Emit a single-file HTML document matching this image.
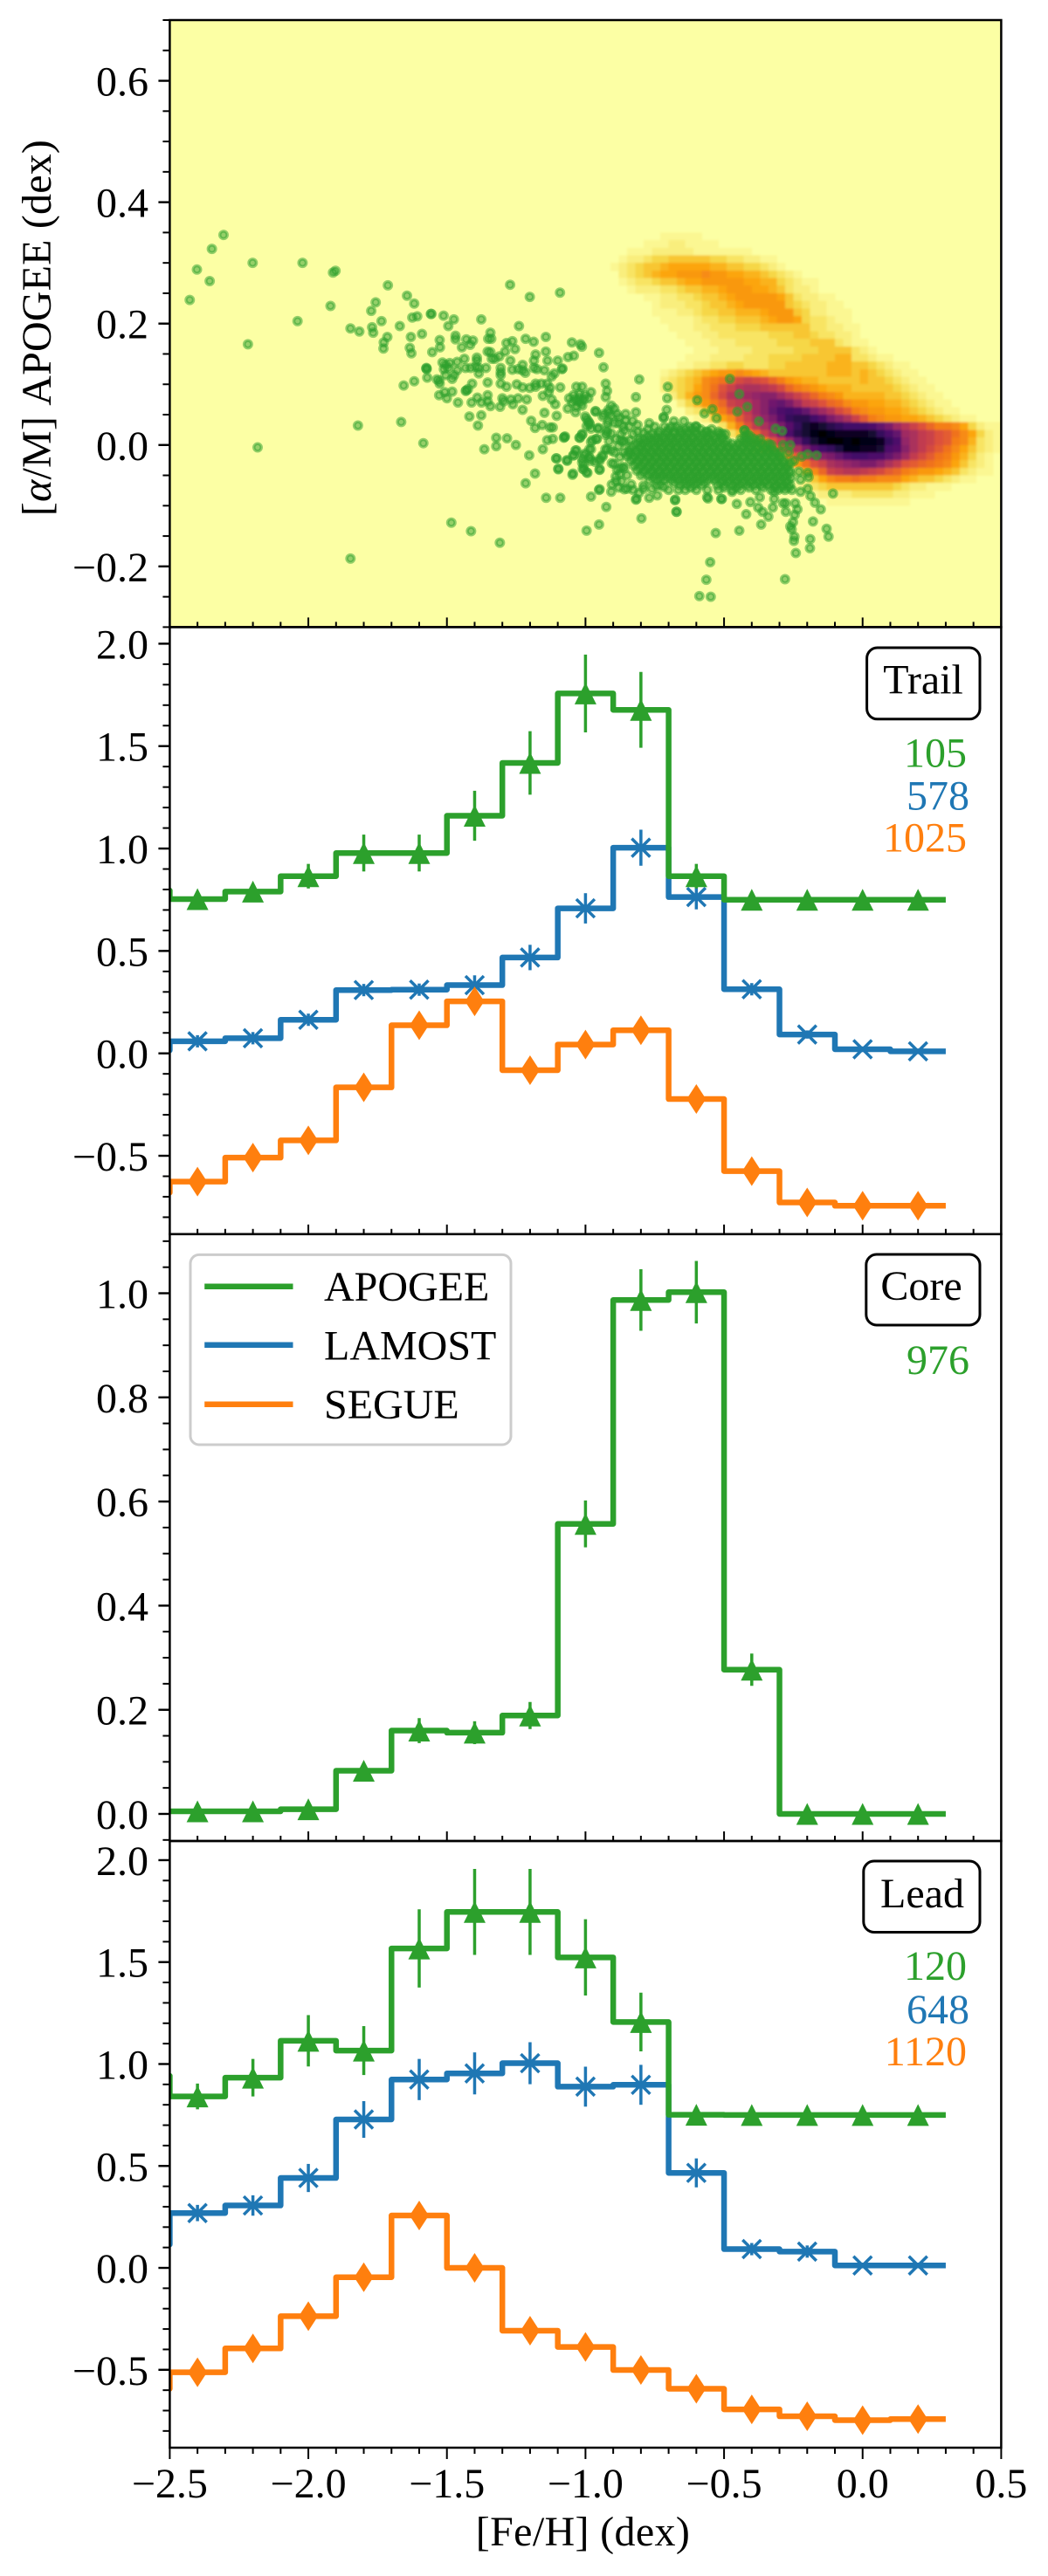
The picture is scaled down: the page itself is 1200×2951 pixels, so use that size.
<!DOCTYPE html>
<html lang="en">
<head>
<meta charset="utf-8">
<title>Metallicity distributions of stream stars</title>
<style>
html,body{margin:0;padding:0;background:#fff;}
svg{display:block;}
text{font-family:"Liberation Serif","DejaVu Serif",serif;font-size:48px;fill:#000;}
</style>
</head>
<body>
<svg id="figure" xmlns="http://www.w3.org/2000/svg" width="1200" height="2951" viewBox="0 0 1200 2951">
  <defs>
    <filter id="heat-soften" x="-5%" y="-5%" width="110%" height="110%"><feGaussianBlur stdDeviation="1.2"/></filter>
  </defs>
  <rect x="0" y="0" width="1200" height="2951" fill="#ffffff"/>
  <g id="panel-scatter"></g>
  <g id="panel-trail"></g>
  <g id="panel-core"></g>
  <g id="panel-lead"></g>

  <text transform="translate(58 375.6) rotate(-90)" text-anchor="middle" textLength="431" lengthAdjust="spacing">[<tspan font-style="italic">α</tspan>/M] APOGEE (dex)</text>
  <text x="667.3" y="2916" text-anchor="middle" textLength="245" lengthAdjust="spacing">[Fe/H] (dex)</text>

  <g>
    <rect x="992.6" y="742" width="129.4" height="81.8" rx="12" fill="#fff" stroke="#000" stroke-width="3"/>
    <text x="1057" y="794.4" text-anchor="middle">Trail</text>
    <text x="1107" y="878.4" text-anchor="end" style="fill:#2ca02c">105</text>
    <text x="1110" y="927.5" text-anchor="end" style="fill:#1f77b4">578</text>
    <text x="1107" y="975.7" text-anchor="end" style="fill:#ff7f0e">1025</text>
  </g>

  <g>
    <rect x="991.8" y="1437" width="130.2" height="81" rx="12" fill="#fff" stroke="#000" stroke-width="3"/>
    <text x="1055" y="1489" text-anchor="middle">Core</text>
    <text x="1110" y="1574" text-anchor="end" style="fill:#2ca02c">976</text>
  </g>

  <g>
    <rect x="988.8" y="2132" width="133.2" height="81.5" rx="12" fill="#fff" stroke="#000" stroke-width="3"/>
    <text x="1056" y="2185" text-anchor="middle">Lead</text>
    <text x="1107" y="2268" text-anchor="end" style="fill:#2ca02c">120</text>
    <text x="1110" y="2318" text-anchor="end" style="fill:#1f77b4">648</text>
    <text x="1107" y="2366" text-anchor="end" style="fill:#ff7f0e">1120</text>
  </g>

  <g>
    <rect x="218" y="1437.4" width="367" height="217.6" rx="10" fill="#ffffff" fill-opacity="0.8" stroke="#cccccc" stroke-width="3"/>
    <line x1="234.2" x2="335.5" y1="1473.7" y2="1473.7" stroke="#2ca02c" stroke-width="6.5"/>
    <text x="371" y="1490">APOGEE</text>
    <line x1="234.2" x2="335.5" y1="1540.8" y2="1540.8" stroke="#1f77b4" stroke-width="6.5"/>
    <text x="371" y="1557.7">LAMOST</text>
    <line x1="234.2" x2="335.5" y1="1608.7" y2="1608.7" stroke="#ff7f0e" stroke-width="6.5"/>
    <text x="371" y="1625">SEGUE</text>
  </g>
</svg>

<script>
/* ---------- histogram data: first entry is the off-axis bin at -2.6 ---------- */
const binCenters = [-2.6,-2.4,-2.2,-2.0,-1.8,-1.6,-1.4,-1.2,-1.0,-0.8,-0.6,-0.4,-0.2,0.0,0.2];

const trailApogee    = [0.795,0.753,0.79,0.865,0.978,0.978,1.16,1.418,1.757,1.677,0.865,0.75,0.75,0.75,0.75];
const trailApogeeErr = [0,0.02,0.03,0.06,0.09,0.09,0.122,0.155,0.19,0.185,0.06,0,0,0,0];
const trailLamost    = [0.015,0.059,0.074,0.164,0.309,0.311,0.333,0.468,0.708,1.004,0.763,0.313,0.092,0.02,0.01];
const trailLamostErr = [0,0.03,0.03,0.03,0.03,0.03,0.048,0.062,0.074,0.088,0.06,0.03,0.02,0.01,0.01];
const trailSegue     = [-0.68,-0.626,-0.509,-0.425,-0.166,0.137,0.254,-0.082,0.043,0.113,-0.223,-0.575,-0.728,-0.744,-0.744];
const trailSegueErr  = [0,0.03,0.03,0.03,0.03,0.03,0.03,0.02,0.02,0.02,0.02,0.02,0.01,0.01,0.01];

const coreApogee     = [0.005,0.005,0.005,0.009,0.083,0.16,0.156,0.189,0.557,0.987,1.002,0.277,0,0,0];
const coreApogeeErr  = [0,0.003,0.003,0.004,0.01,0.024,0.022,0.026,0.045,0.059,0.06,0.031,0,0,0];

const leadApogee     = [0.942,0.841,0.933,1.114,1.066,1.567,1.746,1.746,1.523,1.206,0.751,0.75,0.75,0.75,0.75];
const leadApogeeErr  = [0,0.063,0.092,0.126,0.12,0.192,0.211,0.211,0.187,0.144,0,0,0,0,0];
const leadLamost     = [0.115,0.269,0.306,0.441,0.728,0.924,0.954,1.004,0.889,0.898,0.466,0.092,0.08,0.012,0.012];
const leadLamostErr  = [0,0.04,0.05,0.069,0.09,0.101,0.103,0.103,0.098,0.098,0.071,0.03,0.03,0.01,0.01];
const leadSegue      = [-0.593,-0.512,-0.395,-0.237,-0.046,0.257,0,-0.308,-0.388,-0.501,-0.593,-0.694,-0.728,-0.747,-0.742];
const leadSegueErr   = [0,0.03,0.03,0.03,0.03,0.03,0.03,0.02,0.02,0.02,0.02,0.02,0.02,0.01,0.01];

/* ---------- tick values and printed labels ---------- */
const xTickValues = [-2.5,-2.0,-1.5,-1.0,-0.5,0.0,0.5];
const xTickLabels = ["−2.5","−2.0","−1.5","−1.0","−0.5","0.0","0.5"];
const alphaTickValues = [-0.2,0,0.2,0.4,0.6];
const alphaTickLabels = ["−0.2","0.0","0.2","0.4","0.6"];
const trailTickValues = [-0.5,0,0.5,1,1.5,2];
const trailTickLabels = ["−0.5","0.0","0.5","1.0","1.5","2.0"];
const coreTickValues = [0,0.2,0.4,0.6,0.8,1.0];
const coreTickLabels = ["0.0","0.2","0.4","0.6","0.8","1.0"];
const leadTickValues = [-0.5,0,0.5,1,1.5,2];
const leadTickLabels = ["−0.5","0.0","0.5","1.0","1.5","2.0"];

/* ---------- 2-D density: one character per bin, base-36 level (0 = empty, z = peak) ---------- */
const heatFirstColumn = 52;   /* bin 0 starts at [Fe/H] = -2.5, width 0.03 dex */
const heatFirstRow = 28;      /* row 0 starts at [a/M] = 0.7, height 0.0125 dex */
const heatRows = [
"000000011111",
"00000111221111",
"000111222221111111",
"001223445555544332211",
"0123455677777665544321",
"002345677888988776654321",
"00123345567788888776643211",
"00012223345566788877653221",
"0000011223345567888887532211",
"00000012223345567888885432211",
"000000111223445566678885422111",
"000000011112334455567887433211",
"0000000011122333444555555332211",
"0000000001112233333344455433221",
"00000000001112223333344445553211",
"000000000001112222333334445555321",
"00000000001112222333444455556633211",
"0000000001122334433344555556665543211",
"00000001234567889876555555566656543211",
"0000000234569abdfgfeca87665555565543211",
"0000000234579begijjihfca9876665555543211",
"0000000024689cfijklmmkigeca98666665543211",
"0000000002468acghikmopnkhgecb9887766543211",
"00000000002358adfhkmprsrpmkifda988776543211",
"0000000000012579dgjlnqtuusqnljgda988776543211",
"0000000000000136aehjlnqtwxwutsssrpnkigecaa974211",
"000000000000001358cgjnruwyzyxxxxwtrpkjhgedb97421",
"0000000000000000247aehlptwyzzyzyyxtrljhgeda96321",
"00000000000000000136adgjnqstvyyxxwrqmjhfdb975321",
"0000000000000000000015adgkmnprssrrpnkhfdba86421",
"000000000000000000000158begjklmnnljhedcba975321",
"00000000000000000000000269cghiihgfdca9887653211",
"0000000000000000000000002579aabaa999765543211",
"000000000000000000000001234555555554322111",
"0000000000000000000000001122223333322111",
"0000000000000000000000000001111111111"
];

/* ---------- APOGEE stars as [ [Fe/H], [a/M] ] ---------- */
const apogeeStars = [
[-2.306,.346],[-2.348,.323],[-2.402,.289],[-2.356,.270],[-2.428,.239],[-2.201,.300],[-2.021,.300],[-1.911,.284],[-1.902,.287],[-1.713,.263],
[-1.920,.229],[-2.039,.204],[-2.218,.166],[-2.183,-.004],[-1.848,-.187],[-1.821,.032],[-1.665,.038],[-1.585,.003],[-1.484,-.128],[-1.413,-.142],
[-1.309,-.161],[-1.272,.264],[-1.201,.244],[-1.092,.251],[-1.757,.235],[-1.773,.221],[-1.644,.246],[-1.618,.233],[-1.848,.192],[-1.816,.187],
[-1.770,.194],[-1.766,.185],[-1.736,.204],[-1.715,.178],[-1.728,.169],[-1.729,.159],[-1.670,.196],[-1.630,.178],[-1.625,.210],[-1.607,.212],
[-1.590,.183],[-1.634,.160],[-1.628,.151],[-1.558,.216],[-1.556,.216],[-1.512,.213],[-1.475,.207],[-1.495,.196],[-1.376,.207],[-1.240,.196],
[-1.526,.173],[-1.525,.161],[-1.553,.153],[-1.469,.180],[-1.469,.174],[-1.446,.161],[-1.430,.174],[-1.406,.172],[-1.416,.165],[-1.343,.185],
[-1.351,.175],[-1.340,.175],[-1.285,.168],[-1.264,.171],[-1.254,.158],[-1.216,.175],[-1.187,.170],[-1.143,.178],[-1.049,.169],[-1.018,.166],
[-1.013,.162],[-.951,.152],[-.935,.128],[-1.042,.147],[-1.063,.145],[-1.353,.154],[-1.343,.153],[-1.338,.142],[-1.327,.142],[-1.290,.154],
[-1.311,.146],[-1.392,.144],[-1.392,.139],[-1.437,.142],[-1.463,.137],[-1.516,.136],[-1.505,.132],[-1.490,.135],[-1.495,.127],[-1.511,.125],
[-1.574,.126],[-1.574,.127],[-1.573,.125],[-1.571,.111],[-1.433,.127],[-1.414,.127],[-1.396,.129],[-1.385,.127],[-1.359,.127],[-1.385,.118],
[-1.463,.123],[-1.474,.115],[-1.481,.109],[-1.505,.115],[-1.271,.139],[-1.306,.127],[-1.306,.115],[-1.306,.120],[-1.264,.124],[-1.243,.125],
[-1.227,.123],[-1.217,.119],[-1.227,.132],[-1.186,.139],[-1.180,.149],[-1.186,.127],[-1.143,.154],[-1.137,.139],[-1.175,.125],[-1.148,.123],
[-1.100,.139],[-1.085,.125],[-1.083,.126],[-1.112,.118],[-1.122,.113],[-1.528,.106],[-1.536,.108],[-1.526,.101],[-1.618,.105],[-1.656,.098],
[-1.528,.082],[-1.508,.087],[-1.500,.077],[-1.481,.088],[-1.460,.070],[-1.432,.089],[-1.430,.090],[-1.424,.092],[-1.409,.101],[-1.353,.103],
[-1.306,.101],[-1.285,.096],[-1.248,.100],[-1.227,.095],[-1.201,.094],[-1.180,.096],[-1.159,.101],[-1.138,.101],[-1.180,.101],[-1.091,.095],
[-1.128,.094],[-1.133,.087],[-1.122,.075],[-1.154,.081],[-1.109,.067],[-1.390,.078],[-1.375,.070],[-1.353,.082],[-1.353,.072],[-1.343,.064],
[-1.308,.063],[-1.411,.070],[-1.300,.077],[-1.295,.072],[-1.269,.075],[-1.262,.067],[-1.243,.077],[-1.212,.075],[-1.227,.058],[-1.419,.047],
[-1.376,.049],[-1.388,.032],[-1.148,.053],[-1.104,.048],[-1.196,.040],[-1.182,.028],[-1.156,.033],[-1.128,.029],[-1.118,.029],[-1.322,.012],
[-1.322,-.002],[-1.283,.011],[-1.251,.000],[-1.365,-.007],[-1.203,-.017],[-1.154,-.007],[-1.138,.008],[-1.118,.010],[-1.076,.013],[-1.074,.014],
[-1.078,.012],[-1.104,-.022],[-1.066,-.026],[-1.098,-.039],[-1.045,-.047],[-1.182,-.047],[-1.216,-.063],[-1.142,-.087],[-1.091,-.087],[-.980,-.085],
[-.951,-.074],[-.949,-.073],[-.925,-.102],[-.951,-.131],[-.996,-.141],[-1.033,.096],[-1.012,.096],[-.980,.087],[-1.059,.077],[-1.043,.082],
[-1.022,.084],[-1.001,.082],[-.990,.077],[-1.048,.070],[-1.027,.072],[-1.006,.075],[-1.033,.063],[-1.012,.065],[-1.064,.060],[-1.036,.054],
[-1.017,.070],[-1.038,.075],[-1.022,.077],[-.964,.056],[-.927,.101],[-.922,.089],[-.927,.079],[-1.001,.047],[-.990,.039],[-.985,.034],
[-.980,.027],[-.954,.027],[-.938,.047],[-1.012,.018],[-1.022,.012],[-.975,.008],[-.959,.010],[-1.036,-.009],[-1.043,-.017],[-1.001,-.014],
[-1.012,-.023],[-.985,-.021],[-.964,-.028],[-.949,-.023],[-.938,-.019],[-.922,-.007],[-.980,-.007],[-1.006,-.033],[-.996,-.045],[-.949,-.040],
[-1.006,-.040],[-.922,.034],[-.922,.020],[-.917,.053],[-.806,.108],[-.703,.096],[-.705,.077],[-.818,.079],[-.707,.058],[-.718,.045],
[-.818,.054],[-.597,.074],[-.571,.052],[-.542,.059],[-.527,.044],[-.479,.109],[-.445,.084],[-.416,.063],[-.452,.055],[-.374,.039],
[-.314,.027],[-.426,.024],[-.963,.055],[-.907,.065],[-.896,.060],[-.917,.058],[-.933,.051],[-.907,.048],[-.886,.051],[-.917,.039],
[-.896,.036],[-.923,.024],[-.907,.019],[-.928,.017],[-.855,.051],[-.855,.041],[-.865,.031],[-.881,.036],[-.860,.024],[-.812,.033],
[-.812,.022],[-.807,.010],[-.996,.043],[-.986,.036],[-.996,.031],[-.954,.028],[-1.012,.017],[-1.020,.012],[-.961,.010],[-.980,.005],
[-.986,-.007],[-1.033,-.009],[-1.044,-.017],[-1.067,-.025],[-1.007,-.017],[-.986,-.021],[-1.012,-.029],[-.981,-.026],[-1.010,-.039],[-.993,-.046],
[-.949,-.041],[-1.047,-.049],[-1.098,-.040],[-1.106,-.022],[-.798,-.121],[-.672,-.110],[-.677,-.091],[-.530,-.145],[-.445,-.141],[-.366,-.131],
[-.420,-.114],[-.454,-.097],[-.558,-.088],[-.510,-.089],[-.340,-.118],[-.361,-.110],[-.377,-.103],[-.324,-.103],[-.818,-.090],[-.770,-.087],
[-.741,-.083],[-.907,-.077],[-.860,-.073],[-.828,-.074],[-.807,-.079],[-.891,-.052],[-.876,-.048],[-.886,-.041],[-.897,-.031],[-.865,-.036],
[-.860,-.038],[-.928,-.007],[-.939,-.017],[-.949,-.026],[-.907,-.009],[-.881,-.002],[-.865,.005],[-.665,-.074],[-.718,-.069],[-.744,-.067],
[-.791,-.067],[-.290,.023],[-.329,.000],[-.287,.000],[-.261,.000],[-.298,-.012],[-.267,-.012],[-.248,-.026],[-.220,-.019],[-.198,-.015],
[-.166,-.017],[-.230,-.044],[-.198,-.046],[-.195,-.053],[-.224,-.057],[-.198,-.072],[-.224,-.077],[-.188,-.084],[-.172,-.095],[-.151,-.106],
[-.107,-.080],[-.243,-.096],[-.235,-.106],[-.277,-.096],[-.245,-.115],[-.261,-.134],[-.251,-.127],[-.256,-.139],[-.246,-.151],[-.248,-.158],
[-.241,-.178],[-.179,-.126],[-.130,-.138],[-.123,-.151],[-.189,-.155],[-.190,-.170],[-.277,-.110],[-.287,-.096],[-.319,-.089],[-.405,-.094],
[-.371,-.086],[-.319,-.077],[-.471,-.077],[-.508,-.089],[-.561,-.086],[-.676,-.090],[-.671,-.110],[-.816,-.089],[-.550,-.193],[-.564,-.222],
[-.589,-.249],[-.548,-.250],[-.280,-.221],[-.718,.046],[-.681,.039],[-.645,.039],[-.602,.031],[-.560,.022],[-.508,.019],[-.427,.024],
[-.890,.010],[-.872,.018],[-.858,.006],[-.895,-.012],[-.876,-.020],[-.860,-.012],[-.890,-.060],[-.870,-.060],[-.850,-.050],[-.835,-.065],
[-.880,-.070],[-.905,-.065],[-.840,.008],[-.828,.018],[-.790,.020],[-.775,.026],[-.842,.030],[-.830,.040],[-.770,.036],[-.750,.030],
[-.878,.045],[-.872,.008],[-.915,.006],[-.905,-.030],[-.875,-.038],[-.850,-.072],[-.790,-.072],[-.760,-.072],[-.700,-.074],[-.560,-.074]
];

/* dense clump of stars, listed row by row: [ [a/M], [Fe/H], [Fe/H], ... ] */
const apogeeClumpRows = [
[.030,-.715,-.69,-.672,-.625,-.60],
[.026,-.70,-.66,-.64,-.615,-.585,-.545],
[.022,-.735,-.705,-.68,-.655,-.628,-.604,-.565,-.52],
[.018,-.76,-.735,-.708,-.682,-.655,-.63,-.60,-.575,-.55,-.52,-.495,-.415],
[.014,-.775,-.748,-.722,-.695,-.668,-.642,-.615,-.59,-.562,-.535,-.508,-.425,-.405],
[.010,-.79,-.765,-.74,-.714,-.688,-.662,-.635,-.61,-.582,-.556,-.53,-.504,-.44,-.418,-.392,-.37],
[.006,-.805,-.778,-.752,-.728,-.70,-.675,-.648,-.622,-.596,-.57,-.545,-.518,-.49,-.43,-.405,-.38],
[.002,-.815,-.79,-.762,-.735,-.71,-.684,-.656,-.63,-.605,-.578,-.552,-.525,-.498,-.47,-.445,-.418,-.392,-.364,-.34],
[-.002,-.83,-.80,-.775,-.748,-.722,-.695,-.67,-.644,-.618,-.59,-.565,-.538,-.51,-.485,-.458,-.432,-.405,-.378,-.35],
[-.006,-.838,-.805,-.78,-.752,-.726,-.70,-.674,-.648,-.62,-.594,-.568,-.54,-.515,-.488,-.462,-.436,-.41,-.382,-.356,-.33],
[-.010,-.845,-.818,-.792,-.765,-.74,-.712,-.686,-.66,-.634,-.608,-.58,-.554,-.528,-.5,-.474,-.448,-.42,-.395,-.368,-.342,-.32],
[-.014,-.84,-.812,-.785,-.758,-.732,-.706,-.68,-.654,-.628,-.6,-.575,-.55,-.522,-.496,-.47,-.444,-.416,-.39,-.364,-.338,-.312],
[-.018,-.85,-.825,-.798,-.772,-.745,-.72,-.694,-.668,-.64,-.615,-.588,-.562,-.535,-.51,-.482,-.456,-.43,-.404,-.378,-.35,-.325,-.30],
[-.022,-.83,-.8,-.772,-.745,-.718,-.692,-.665,-.64,-.612,-.587,-.56,-.535,-.508,-.482,-.455,-.43,-.402,-.376,-.35,-.322,-.296],
[-.026,-.838,-.81,-.785,-.758,-.73,-.705,-.678,-.652,-.625,-.6,-.574,-.548,-.52,-.495,-.468,-.442,-.415,-.39,-.362,-.336,-.31,-.285],
[-.030,-.815,-.788,-.76,-.732,-.706,-.68,-.654,-.628,-.6,-.574,-.548,-.522,-.495,-.468,-.443,-.416,-.39,-.363,-.337,-.31,-.285,-.262],
[-.034,-.825,-.798,-.77,-.745,-.718,-.692,-.665,-.64,-.612,-.586,-.56,-.534,-.508,-.482,-.455,-.43,-.402,-.376,-.35,-.324,-.298,-.272],
[-.038,-.805,-.776,-.75,-.722,-.696,-.67,-.644,-.618,-.592,-.565,-.538,-.512,-.486,-.46,-.433,-.407,-.38,-.355,-.328,-.302,-.276],
[-.042,-.815,-.788,-.762,-.735,-.71,-.682,-.656,-.63,-.604,-.578,-.55,-.525,-.498,-.472,-.446,-.42,-.394,-.368,-.34,-.315,-.288,-.264],
[-.046,-.79,-.76,-.733,-.707,-.68,-.655,-.628,-.602,-.576,-.55,-.524,-.497,-.47,-.444,-.418,-.39,-.365,-.34,-.312,-.287,-.262],
[-.050,-.80,-.772,-.745,-.72,-.694,-.668,-.642,-.615,-.59,-.562,-.536,-.51,-.484,-.458,-.43,-.405,-.378,-.352,-.326,-.30,-.275],
[-.054,-.755,-.73,-.704,-.678,-.65,-.625,-.598,-.572,-.545,-.52,-.493,-.467,-.44,-.415,-.388,-.362,-.336,-.31,-.284,-.258],
[-.058,-.77,-.742,-.716,-.69,-.664,-.638,-.61,-.585,-.558,-.532,-.506,-.48,-.454,-.428,-.40,-.375,-.35,-.322,-.296,-.27],
[-.062,-.68,-.648,-.622,-.596,-.57,-.512,-.485,-.458,-.432,-.405,-.38,-.354,-.328,-.3,-.275],
[-.066,-.73,-.66,-.635,-.608,-.58,-.525,-.498,-.47,-.445,-.418,-.392,-.366,-.34,-.314,-.288,-.262],
[-.070,-.62,-.5,-.455,-.41,-.36,-.318,-.292,-.268],
[-.074,-.64,-.60,-.52,-.47,-.44,-.385,-.33,-.305,-.28,-.255]
];

/* ---------- axis geometry ---------- */
const NS = "http://www.w3.org/2000/svg";
const GREEN = "#2ca02c", BLUE = "#1f77b4", ORANGE = "#ff7f0e";
const plotLeft = 194.4, plotRight = 1146.4;
const xMin = -2.5, xMax = 0.5;
function xAxis(v){ return plotLeft + (v - xMin) / (xMax - xMin) * (plotRight - plotLeft); }
function yAxisFor(p){ return function(v){ return p.top + (p.yMax - v) / (p.yMax - p.yMin) * (p.bottom - p.top); }; }
function make(tag, parent, geometry){
  const el = document.createElementNS(NS, tag);
  for (const k in geometry) el.setAttribute(k, geometry[k]);
  parent.appendChild(el);
  return el;
}
function fmt(n){ return n.toFixed(2); }

/* inferno colormap stops, reversed by value; faint levels are compressed toward the background */
const infernoStops = [[0,0,4],[22,11,57],[66,10,104],[106,23,110],[147,38,103],[188,55,84],[221,81,58],[243,120,25],[252,165,10],[246,215,70],[252,255,164]];
function densityColor(v){
  const t = Math.max(0, Math.min(1, 1 - v)) * (infernoStops.length - 1);
  const i = Math.min(Math.floor(t), infernoStops.length - 2), f = t - i;
  const a = infernoStops[i], b = infernoStops[i + 1];
  return "rgb(" + a.map(function(c, n){ return Math.round(c + (b[n] - c) * f); }).join(",") + ")";
}
function levelValue(level){
  return level / 35 * Math.min(1, 0.6 + 0.4 * level / 6);
}

function drawAxes(root, p){
  const yS = yAxisFor(p);
  const g = make("g", root, {});
  
  

  /* x minor + major ticks */
  for (let k = 0; k <= 30; k++){
    const v = xMin + k * 0.1;
    const isMajor = k % 5 === 0;
    const len = isMajor ? (p.outward ? 13 : 11) : (p.outward ? 7 : 6);
    const y1 = p.bottom, y2 = p.outward ? p.bottom + len : p.bottom - len;
    const t = make("line", g, {x1: fmt(xAxis(v)), x2: fmt(xAxis(v)), y1: y1, y2: y2, stroke: "#000", "stroke-width": 2});
    
    
  }
  /* y minor ticks */
  const start = Math.ceil(p.yMin / p.minorStep - 1e-6), stop = Math.floor(p.yMax / p.minorStep + 1e-6);
  for (let k = start; k <= stop; k++){
    const v = k * p.minorStep;
    const t = make("line", g, {x1: plotLeft - 8, x2: plotLeft, y1: fmt(yS(v)), y2: fmt(yS(v)), stroke: "#000", "stroke-width": 2});
    
    
  }
  /* y major ticks and labels */
  p.tickValues.forEach(function(v, i){
    const t = make("line", g, {x1: plotLeft - 13, x2: plotLeft, y1: fmt(yS(v)), y2: fmt(yS(v)), stroke: "#000", "stroke-width": 2.4});
    
    
    const lab = make("text", g, {x: 170, y: fmt(yS(v) + 17), "text-anchor": "end"});
    
    
    lab.textContent = p.tickLabels[i];
  });
  /* spines */
  const frame = make("rect", g, {x: plotLeft, y: p.top, width: plotRight - plotLeft, height: p.bottom - p.top, fill: "none", stroke: "#000", "stroke-width": 2.5});
  
  
}

function addClip(root, p){
  const cp = make("clipPath", root, {id: "clip-" + p.key});
  make("rect", cp, {x: plotLeft, y: p.top, width: plotRight - plotLeft, height: p.bottom - p.top});
}

function drawSeries(root, p, s){
  const yS = yAxisFor(p);
  const g = make("g", root, {"clip-path": "url(#clip-" + p.key + ")"});
  
  

  let d = "";
  binCenters.forEach(function(c, i){
    const a = fmt(xAxis(c - 0.1)), b = fmt(xAxis(c + 0.1)), y = fmt(yS(s.values[i]));
    d += (i === 0 ? "M" : "L") + a + " " + y + "L" + b + " " + y;
  });
  const line = make("path", g, {d: d, fill: "none", stroke: s.color, "stroke-width": 6.5, "stroke-linejoin": "round"});
  
  

  binCenters.forEach(function(c, i){
    if (i === 0) return;
    const cx = xAxis(c), cy = yS(s.values[i]), e = s.errors[i];
    if (e > 0){
      const bar = make("line", g, {x1: fmt(cx), x2: fmt(cx), y1: fmt(yS(s.values[i] + e)), y2: fmt(yS(s.values[i] - e)), stroke: s.color, "stroke-width": 3.5});
      
      
    }
    let m;
    if (s.marker === "triangle"){
      m = make("path", g, {d: "M" + fmt(cx) + " " + fmt(cy - 12.5) + "L" + fmt(cx + 12.5) + " " + fmt(cy + 12.5) + "L" + fmt(cx - 12.5) + " " + fmt(cy + 12.5) + "Z", fill: s.color});
    } else if (s.marker === "x"){
      m = make("path", g, {d: "M" + fmt(cx - 10.5) + " " + fmt(cy - 10.5) + "L" + fmt(cx + 10.5) + " " + fmt(cy + 10.5) + "M" + fmt(cx - 10.5) + " " + fmt(cy + 10.5) + "L" + fmt(cx + 10.5) + " " + fmt(cy - 10.5), fill: "none", stroke: s.color, "stroke-width": 3.5});
    } else {
      m = make("path", g, {d: "M" + fmt(cx) + " " + fmt(cy - 17) + "L" + fmt(cx + 11) + " " + fmt(cy) + "L" + fmt(cx) + " " + fmt(cy + 17) + "L" + fmt(cx - 11) + " " + fmt(cy) + "Z", fill: s.color});
    }
    
    
  });
}

/* ---------- panels ---------- */
const scatterPanel = {key: "scatter", top: 23, bottom: 718.4, yMin: -0.3, yMax: 0.7, minorStep: 0.05, tickValues: alphaTickValues, tickLabels: alphaTickLabels, outward: false};
const trailPanel = {key: "trail", top: 718.4, bottom: 1413.8, yMin: -0.8826, yMax: 2.081, minorStep: 0.1, tickValues: trailTickValues, tickLabels: trailTickLabels, outward: false};
const corePanel = {key: "core", top: 1413.8, bottom: 2109, yMin: -0.052, yMax: 1.1135, minorStep: 0.05, tickValues: coreTickValues, tickLabels: coreTickLabels, outward: false};
const leadPanel = {key: "lead", top: 2109, bottom: 2804, yMin: -0.882, yMax: 2.094, minorStep: 0.1, tickValues: leadTickValues, tickLabels: leadTickLabels, outward: true};

/* scatter panel: density image + stars */
(function(){
  const root = document.getElementById("panel-scatter");
  const p = scatterPanel;
  addClip(root, p);
  const yS = yAxisFor(p);
  const bg = make("rect", root, {x: plotLeft, y: p.top, width: plotRight - plotLeft, height: p.bottom - p.top, fill: densityColor(0)});
  
  

  const heatClip = make("g", root, {"clip-path": "url(#clip-scatter)"});
  
  
  const heat = make("g", heatClip, {filter: "url(#heat-soften)", "shape-rendering": "crispEdges"});
  
  
  heatRows.forEach(function(row, r){
    for (let c = 0; c < row.length; c++){
      const level = parseInt(row.charAt(c), 36);
      if (!level) continue;
      const col = heatFirstColumn + c, rowIdx = heatFirstRow + r;
      const x0 = xAxis(xMin + col * 0.03), x1 = xAxis(xMin + (col + 1) * 0.03);
      const y0 = yS(p.yMax - rowIdx * 0.0125), y1 = yS(p.yMax - (rowIdx + 1) * 0.0125);
      const cell = make("rect", heat, {x: fmt(x0), y: fmt(y0), width: fmt(x1 - x0 + 0.4), height: fmt(y1 - y0 + 0.4), fill: densityColor(levelValue(level))});
      
      
    }
  });

  const stars = make("g", root, {"clip-path": "url(#clip-scatter)"});
  
  
  function star(feh, alpha){
    const pt = make("circle", stars, {cx: fmt(xAxis(feh)), cy: fmt(yS(alpha)), r: 4.25, fill: GREEN, "fill-opacity": 0.5, stroke: GREEN, "stroke-opacity": 0.5, "stroke-width": 3.5});
    
    
  }
  apogeeClumpRows.forEach(function(row){
    for (let i = 1; i < row.length; i++) star(row[i], row[0]);
  });
  apogeeStars.forEach(function(s){ star(s[0], s[1]); });
  drawAxes(root, p);
})();

/* histogram panels */
(function(){
  const trailSeries = [
    {name: "lamost", color: BLUE, marker: "x", values: trailLamost, errors: trailLamostErr},
    {name: "segue", color: ORANGE, marker: "diamond", values: trailSegue, errors: trailSegueErr},
    {name: "apogee", color: GREEN, marker: "triangle", values: trailApogee, errors: trailApogeeErr}
  ];
  const coreSeries = [
    {name: "apogee", color: GREEN, marker: "triangle", values: coreApogee, errors: coreApogeeErr}
  ];
  const leadSeries = [
    {name: "lamost", color: BLUE, marker: "x", values: leadLamost, errors: leadLamostErr},
    {name: "segue", color: ORANGE, marker: "diamond", values: leadSegue, errors: leadSegueErr},
    {name: "apogee", color: GREEN, marker: "triangle", values: leadApogee, errors: leadApogeeErr}
  ];
  [[trailPanel, trailSeries, "panel-trail"], [corePanel, coreSeries, "panel-core"], [leadPanel, leadSeries, "panel-lead"]].forEach(function(entry){
    const root = document.getElementById(entry[2]);
    addClip(root, entry[0]);
    entry[1].forEach(function(s){ drawSeries(root, entry[0], s); });
    drawAxes(root, entry[0]);
  });
  /* x tick labels under the bottom panel */
  const leadRoot = document.getElementById("panel-lead");
  xTickValues.forEach(function(v, i){
    const lab = make("text", leadRoot, {x: fmt(xAxis(v)), y: 2861, "text-anchor": "middle"});
    
    
    lab.textContent = xTickLabels[i];
  });
})();
</script>
</body>
</html>
